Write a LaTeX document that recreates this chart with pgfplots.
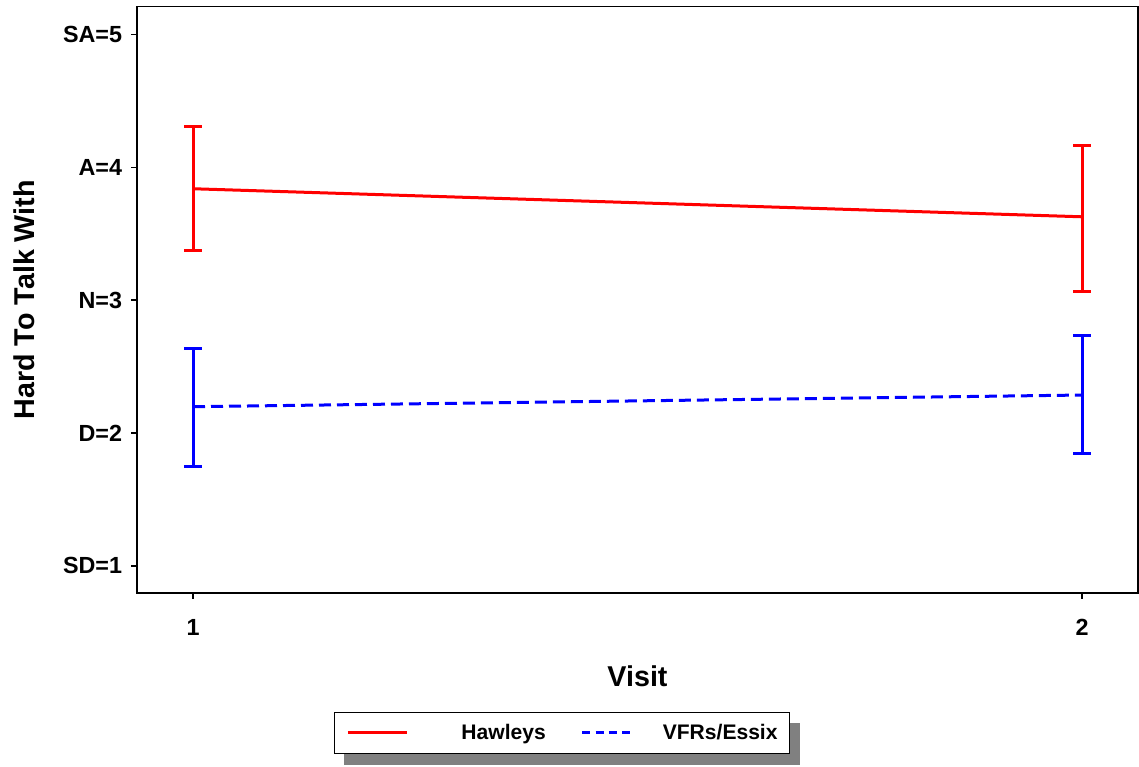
\documentclass[border=0pt]{standalone}
\usepackage{fontspec}
\setmainfont{Liberation Sans}
\usepackage{pgfplots}
\pgfplotsset{compat=1.18}
\pgfdeclarelayer{bg}
\pgfsetlayers{bg,main}
\definecolor{hred}{HTML}{FF0000}
\definecolor{hblue}{HTML}{0000FF}
\begin{document}
\begin{tikzpicture}
\begin{axis}[
  scale only axis,
  width=750.75pt, height=439.7pt,
  xmin=0.937, xmax=2.063,
  ymin=0.797, ymax=5.208,
  axis line style={line width=1pt, black},
  tick style={line width=1pt, black},
  tick align=outside,
  major tick length=4.5pt,
  xtick={1,2}, xticklabels={1,2},
  ytick={1,2,3,4,5},
  yticklabels={SD=1,D=2,N=3,A=4,SA=5},
  xtick pos=bottom, ytick pos=left,
  ticklabel style={font=\fontsize{17.5pt}{20pt}\selectfont\bfseries, inner sep=0pt},
  yticklabel style={xshift=-6.5pt},
  xticklabel style={yshift=-15pt},
  xlabel={Visit}, ylabel={Hard To Talk With},
  label style={font=\fontsize{21.5pt}{24pt}\selectfont\bfseries},
  xlabel style={at={(axis description cs:0.5,-0.1603)}, anchor=base},
  ylabel style={at={(axis description cs:-0.1019,0.5)}, anchor=base},
  legend columns=2,
  legend style={at={(0.4246,-0.2388)}, anchor=center, draw=black, line width=0.75pt,
    fill=white, inner xsep=9pt, inner ysep=9pt,
    font=\fontsize{15.8pt}{18pt}\selectfont\bfseries,
    nodes={inner sep=0pt},
    column sep=0pt, name=leg},
]
% mean lines (legend)
\addplot[hred, line width=2.25pt, no markers,
  legend image code/.code={\draw[hred, line width=2.25pt] (0pt,0pt) -- (44.25pt,0pt);}]
  coordinates {(1,3.838) (2,3.627)};
\addlegendentry{\hspace*{39.75pt}Hawleys\hspace*{26.25pt}}
\addplot[hblue, line width=2.25pt, no markers, dash pattern=on 9pt off 4.5pt,
  legend image code/.code={\draw[hblue, line width=2.25pt, dash pattern=on 6pt off 4pt] (0pt,0pt) -- (39.75pt,0pt);}]
  coordinates {(1,2.198) (2,2.286)};
\addlegendentry{\hspace*{19.5pt}VFRs/Essix}
% error bars
\addplot[forget plot, hred, draw=none, no markers,
  error bars/.cd, y dir=both, y explicit,
  error bar style={draw=hred, line width=2.25pt, solid},
  error mark options={draw=hred, line width=2.25pt, mark size=6.4pt, solid, rotate=90}]
  coordinates {
  (1,3.838) += (0,0.466) -= (0,0.467)
  (2,3.627) += (0,0.534) -= (0,0.562)
  };
\addplot[forget plot, hblue, draw=none, no markers,
  error bars/.cd, y dir=both, y explicit,
  error bar style={draw=hblue, line width=2.25pt, solid},
  error mark options={draw=hblue, line width=2.25pt, mark size=6.4pt, solid, rotate=90}]
  coordinates {
  (1,2.198) += (0,0.436) -= (0,0.449)
  (2,2.286) += (0,0.446) -= (0,0.439)
  };
\end{axis}
\begin{pgfonlayer}{bg}
\fill[black!50] ([xshift=7.5pt,yshift=-8.25pt]leg.south west) rectangle ([xshift=7.5pt,yshift=-8.25pt]leg.north east);
\end{pgfonlayer}
\path ([xshift=-102.75pt,yshift=-130.5pt]current axis.south west) rectangle ([xshift=0.75pt,yshift=5pt]current axis.north east);
\end{tikzpicture}
\end{document}
